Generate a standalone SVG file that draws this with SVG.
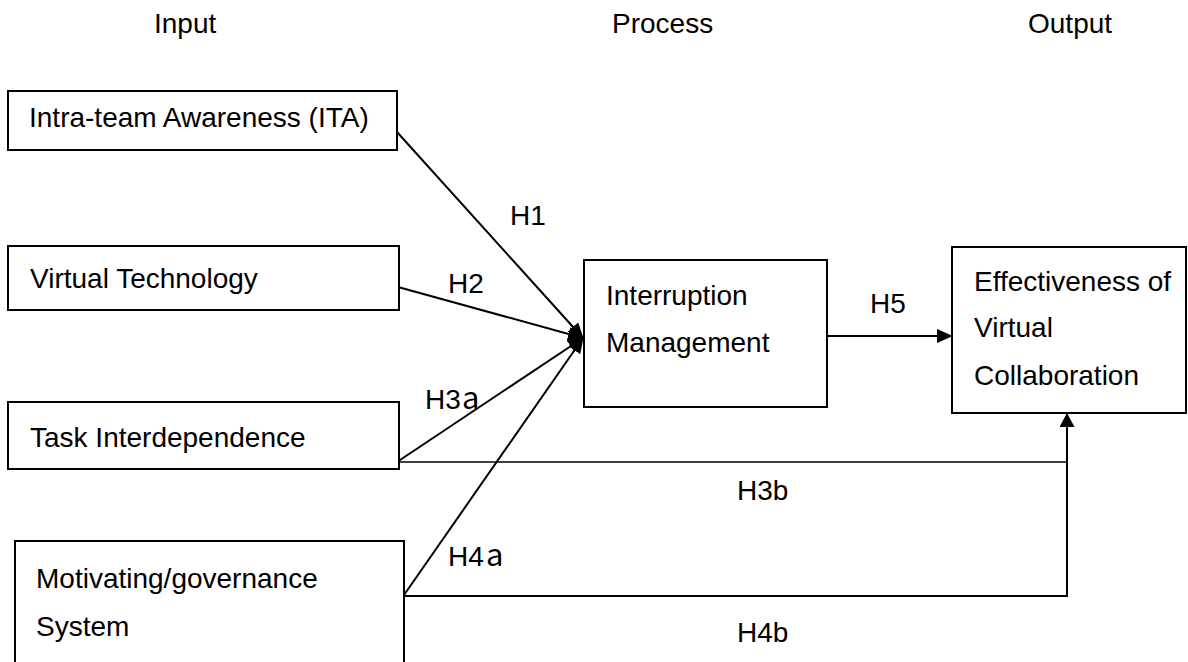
<svg xmlns="http://www.w3.org/2000/svg" width="1188" height="662" viewBox="0 0 1188 662">
  <style>
    .box { fill: #ffffff; stroke: #000000; stroke-width: 2; }
    .lbl { font-family: "Liberation Sans", Arial, sans-serif; font-size: 28px; fill: #000000; }
    .cjk { font-family: "Noto Sans CJK SC", "Liberation Sans", sans-serif; font-size: 31px; fill: #000000; }
    .link { fill: none; stroke: #000000; stroke-width: 2; }
    .thin { fill: none; stroke: #000000; stroke-width: 1.6; }
  </style>
  <defs>
    <marker id="arrow" viewBox="0 0 16 14" refX="15" refY="7" markerWidth="16" markerHeight="14" markerUnits="userSpaceOnUse" orient="auto">
      <path d="M0,0 L16,7 L0,14 Z" fill="#000000"/>
    </marker>
    <marker id="arrowUp" viewBox="0 0 14 15" refX="13" refY="7.5" markerWidth="14" markerHeight="15" markerUnits="userSpaceOnUse" orient="auto">
      <path d="M0,0 L14,7.5 L0,15 Z" fill="#000000"/>
    </marker>
  </defs>
  <rect width="1188" height="662" fill="#ffffff"/>

  <!-- column headings -->
  <g id="headings">
    <text class="lbl" x="154" y="33">Input</text>
    <text class="lbl" x="612" y="33">Process</text>
    <text class="lbl" x="1028" y="33">Output</text>
  </g>

  <!-- connectors -->
  <g id="connectors">
    <line class="link" x1="397" y1="132" x2="583" y2="338" marker-end="url(#arrow)"/>
    <line class="link" x1="398" y1="287" x2="583" y2="338" marker-end="url(#arrow)"/>
    <line class="link" x1="397" y1="462" x2="583" y2="338" marker-end="url(#arrow)"/>
    <line class="link" x1="404" y1="595" x2="583" y2="338" marker-end="url(#arrow)"/>
    <line class="link" x1="827" y1="336" x2="952" y2="336" marker-end="url(#arrow)"/>
    <line class="thin" x1="397" y1="462" x2="1067" y2="462"/>
    <polyline class="link" points="404,596 1067,596 1067,414" marker-end="url(#arrowUp)"/>
  </g>

  <!-- hypothesis labels -->
  <g id="labels">
    <text class="lbl" x="510" y="225">H1</text>
    <text class="lbl" x="448" y="293">H2</text>
    <text class="lbl" x="425" y="409">H3</text>
    <text class="cjk" x="462" y="409">a</text>
    <text class="lbl" x="448" y="566">H4</text>
    <text class="cjk" x="486" y="566">a</text>
    <text class="lbl" x="870" y="313">H5</text>
    <text class="lbl" x="737" y="500">H3b</text>
    <text class="lbl" x="737" y="642">H4b</text>
  </g>

  <g id="node-ita">
    <rect class="box" x="8" y="91" width="389" height="59"/>
    <text class="lbl" x="29" y="127">Intra-team Awareness (ITA)</text>
  </g>
  <g id="node-tech">
    <rect class="box" x="8" y="246" width="391" height="64"/>
    <text class="lbl" x="30" y="288">Virtual Technology</text>
  </g>
  <g id="node-task">
    <rect class="box" x="8" y="402" width="391" height="67"/>
    <text class="lbl" x="30" y="447">Task Interdependence</text>
  </g>
  <g id="node-motivation">
    <rect class="box" x="15" y="541" width="389" height="130"/>
    <text class="lbl" x="36" y="588">Motivating/governance</text>
    <text class="lbl" x="36" y="636">System</text>
  </g>
  <g id="node-interruption">
    <rect class="box" x="584" y="260" width="243" height="147"/>
    <text class="lbl" x="606" y="305">Interruption</text>
    <text class="lbl" x="606" y="352">Management</text>
  </g>
  <g id="node-effectiveness">
    <rect class="box" x="952" y="247" width="234" height="166"/>
    <text class="lbl" x="974" y="291">Effectiveness of</text>
    <text class="lbl" x="974" y="337">Virtual</text>
    <text class="lbl" x="974" y="385">Collaboration</text>
  </g>
</svg>
